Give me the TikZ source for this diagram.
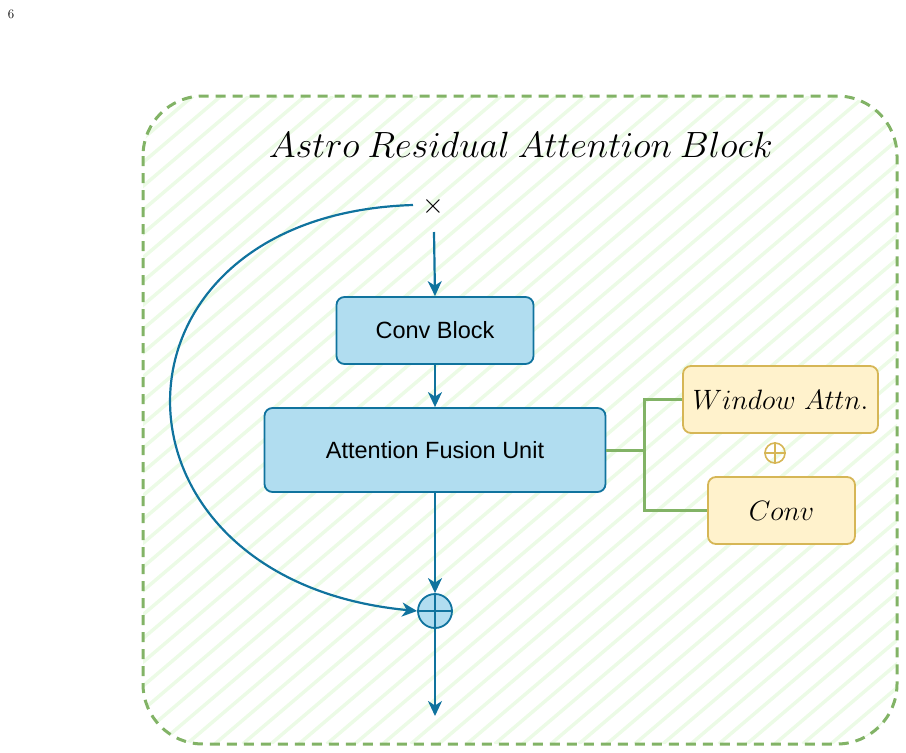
\RequirePackage{fix-cm}
\documentclass[tikz,border=0pt]{standalone}
\usepackage{fontspec}
\newfontfamily\sansf{Liberation Sans}
\usetikzlibrary{arrows.meta}
\definecolor{bluefill}{HTML}{B1DDF0}
\definecolor{blueline}{HTML}{10739E}
\definecolor{yfill}{HTML}{FFF2CC}
\definecolor{yline}{HTML}{D6B656}
\definecolor{gline}{HTML}{82B366}
\definecolor{hatchc}{HTML}{ECFBE6}
\tikzset{
  bbox/.style={draw=blueline, fill=bluefill, line width=1.8pt, rounded corners=8pt, font=\sansf\fontsize{23.5}{26}\selectfont},
  ybox/.style={draw=yline, fill=yfill, line width=1.8pt, rounded corners=8pt, font=\fontsize{28}{32}\selectfont},
  arr/.style={draw=blueline, line width=2.2pt, -{Stealth[length=15pt,width=14pt,inset=4.5pt]}},
  gl/.style={draw=gline, line width=3pt},
  hatchline/.style={draw=hatchc, line width=3.5pt},
}
\begin{document}
\begin{tikzpicture}[x=1pt,y=-1pt]
\useasboundingbox (0,0) rectangle (906,753);
\node[font=\fontsize{13}{15}\selectfont] (pagenum) at (11,14) {6};
% outer block
\begin{scope}
  \clip[rounded corners=60pt] (143,96) rectangle (897,744);
  \foreach \c in {250,278,...,1800} \draw[hatchline] (\c-96/0.85,96) -- (\c-744/0.85,744);
\end{scope}
\draw[gline, line width=3pt, dash pattern=on 10pt off 7pt, rounded corners=60pt] (143,96) rectangle (897,744);
\node (title) at (521,145) {\fontsize{36.5}{40}\selectfont $Astro\mkern4mu Residual\mkern4mu Attention\mkern4mu Block$};
% main chain
\node (cross) at (433,206) {\fontsize{28}{30}\selectfont $\times$};
\coordinate (xs) at (434,232);
\coordinate (xl) at (413,205);
\node[bbox, minimum width=197pt, minimum height=67pt] (conv) at (435,330.5) {Conv Block};
\node[bbox, minimum width=341pt, minimum height=84pt] (afu) at (435,450) {Attention Fusion Unit};
\node[draw=blueline, fill=bluefill, line width=1.8pt, circle, minimum size=34pt, inner sep=0pt] (plus) at (435,611) {};
\draw[blueline, line width=1.8pt] (plus.north) -- (plus.south) (plus.west) -- (plus.east);
\coordinate (out) at (435,716);
\draw[arr] (xs) -- (conv.north);
\draw[arr] (conv.south) -- (afu.north);
\draw[arr] (afu.south) -- (plus.north);
\draw[arr] (plus.south) -- (out);
\draw[arr] (xl) .. controls (90,215) and (90,580) .. (plus.west);
% right branch
\node[ybox, minimum width=195pt, minimum height=67pt] (win) at (780.5,399.5) {$Window\ Attn.$};
\node[ybox, minimum width=147pt, minimum height=67pt] (conv2) at (781.5,510.5) {$Conv$};
\node[draw=yline, line width=1.6pt, circle, minimum size=20pt, inner sep=0pt] (oplus) at (775,453) {};
\draw[yline, line width=1.6pt] (oplus.north) -- (oplus.south) (oplus.west) -- (oplus.east);
\coordinate (j) at (644,450);
\draw[gl] (afu.east) -- (j);
\draw[gl] (win.west) -| (j) |- (conv2.west);
\end{tikzpicture}
\end{document}
